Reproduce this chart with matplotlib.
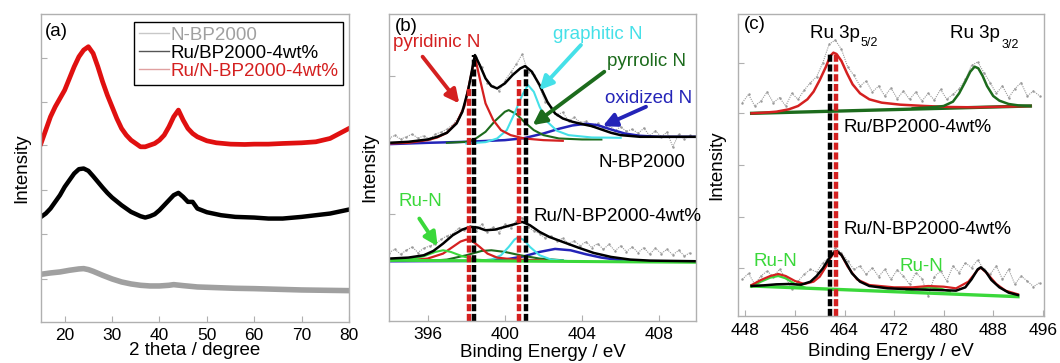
import matplotlib
matplotlib.use("Agg")
import matplotlib.pyplot as plt

plt.rcParams['font.family'] = ['Liberation Sans', 'DejaVu Sans']
plt.rcParams['font.size'] = 13.5

# ---------------- (a) XRD ----------------
red_x = [15, 16, 17, 18, 19, 20, 21, 22, 23, 24, 25, 26, 27, 28, 29, 30, 31, 32, 33, 34, 35, 36, 37, 38, 39, 40,
         41, 42, 43, 44, 45, 46, 47, 48, 50, 52, 55, 58, 60, 63, 66, 70, 73, 76, 78, 80]
red_y = [535, 575, 615, 645, 670, 695, 730, 765, 795, 815, 825, 805, 765, 720, 680, 645, 610, 580, 560, 545, 535, 525,
         525, 530, 535, 545, 560, 585, 615, 635, 605, 580, 565, 555, 543, 537, 533, 532, 533, 533, 535, 537, 540, 550,
         565, 580]
black_x = [15, 16, 17, 18, 19, 20, 21, 22, 23, 24, 25, 26, 27, 28, 29, 30, 32, 34, 36, 37, 38, 39, 40, 41, 42, 43, 44,
           45, 46, 47, 48, 50, 53, 56, 60, 63, 66, 70, 73, 76, 80]
black_y = [315, 325, 340, 360, 380, 405, 425, 445, 458, 460, 453, 437, 420, 403, 387, 373, 350, 330, 317, 313, 317,
           323, 335, 350, 365, 380, 387, 375, 360, 360, 340, 329, 320, 315, 313, 310, 310, 315, 320, 325, 337]
gray_x = [15, 17, 19, 21, 23, 24, 25, 26, 28, 30, 32, 34, 36, 38, 40, 42, 43, 45, 48, 52, 56, 60, 65, 70, 75, 80]
gray_y = [143, 147, 150, 155, 159, 160, 157, 152, 140, 129, 120, 114, 110, 108, 108, 110, 112, 109, 105, 103, 101,
          100, 98, 96, 95, 94]
xrd_labels = ['N-BP2000', 'Ru/BP2000-4wt%', 'Ru/N-BP2000-4wt%']

# ---------------- (b) N 1s ----------------
b_env1_x = [394, 395, 396, 396.5, 397, 397.5, 397.8, 398.1, 398.3, 398.45, 398.7, 399, 399.3, 399.6, 400, 400.4,
            400.8, 401.05, 401.4, 401.8, 402.2, 402.6, 403, 403.5, 404, 404.5, 405, 405.5, 406, 407, 408, 410]
b_env1_y = [534, 537, 544, 552, 564, 592, 627, 692, 752, 797, 767, 727, 704, 697, 712, 737, 757, 764, 747, 707, 657,
            622, 607, 597, 590, 584, 574, 564, 557, 552, 552, 552]
b_pyd1_x = [394, 395, 396, 396.5, 397, 397.5, 397.9, 398.2, 398.45, 398.7, 399, 399.4, 399.8, 400.3, 401, 402, 403]
b_pyd1_y = [532, 534, 542, 550, 564, 594, 642, 722, 792, 727, 652, 602, 572, 557, 547, 542, 540]
b_pyr1_x = [397, 398, 398.5, 399, 399.5, 400, 400.2, 400.6, 401, 401.5, 402, 402.8, 404, 405]
b_pyr1_y = [534, 537, 547, 567, 600, 627, 632, 620, 597, 572, 557, 547, 544, 544]
b_gra1_x = [398, 399, 399.6, 400.1, 400.5, 400.9, 401.2, 401.5, 401.8, 402.2, 402.7, 403.3, 404.5, 406]
b_gra1_y = [532, 536, 547, 572, 622, 677, 707, 687, 642, 597, 570, 557, 550, 549]
b_oxi1_x = [394, 396, 398, 400, 401, 402, 402.8, 403.5, 404.2, 404.8, 405.5, 406.2, 407, 408, 410]
b_oxi1_y = [530, 534, 537, 542, 548, 562, 576, 586, 591, 587, 574, 562, 555, 552, 552]
b_raw_x = [394.0, 394.3, 394.6, 394.9, 395.2, 395.5, 395.8, 396.1, 396.4, 396.7, 397.0, 397.3, 397.6, 397.9, 398.2,
           398.5, 398.8, 399.1, 399.4, 399.7, 400.0, 400.3, 400.6, 400.9, 401.2, 401.5, 401.8, 402.1, 402.4, 402.7,
           403.0, 403.3, 403.6, 403.9, 404.2, 404.5, 404.8, 405.1, 405.4, 405.7, 406.0, 406.3, 406.6, 406.9, 407.2,
           407.5, 407.8, 408.1, 408.4, 408.7, 409.0, 409.3, 409.6]
b_raw1_y = [548, 556, 545, 552, 560, 548, 555, 546, 560, 566, 575, 588, 610, 650, 720, 790, 760, 712, 705, 690, 720,
            745, 770, 800, 745, 738, 700, 655, 640, 618, 625, 600, 610, 595, 598, 585, 592, 578, 588, 570, 582, 568,
            575, 562, 578, 555, 570, 552, 566, 522, 560, 545, 556]
b_raw2_y = [205, 215, 200, 212, 222, 205, 218, 225, 230, 245, 255, 262, 278, 272, 285, 270, 290, 268, 282, 265, 290,
            278, 300, 310, 282, 270, 262, 248, 255, 240, 248, 232, 240, 225, 238, 220, 232, 215, 230, 210, 225, 208,
            222, 205, 220, 200, 218, 202, 215, 198, 212, 195, 205]
b_env2_x = [394, 395, 395.8, 396.3, 396.8, 397.3, 397.8, 398.2, 398.6, 399, 399.5, 400, 400.5, 400.9, 401.3, 401.8,
            402.3, 403, 403.8, 404.6, 405.5, 406.5, 407.5, 410]
b_env2_y = [187, 190, 197, 210, 232, 257, 274, 282, 280, 272, 274, 282, 290, 297, 287, 267, 252, 237, 220, 204, 192,
            184, 181, 179]
b_pyd2_x = [395, 396, 396.8, 397.3, 397.7, 398, 398.3, 398.7, 399.1, 399.6, 400.5, 402]
b_pyd2_y = [182, 187, 202, 222, 238, 244, 240, 222, 202, 190, 184, 182]
b_run2_x = [394, 395, 395.8, 396.4, 396.8, 397.2, 397.8, 398.5, 399.5]
b_run2_y = [180, 184, 194, 207, 212, 207, 194, 184, 180]
b_pyr2_x = [396, 397, 398, 398.8, 399.3, 400, 400.8, 401.8, 403]
b_pyr2_y = [180, 184, 197, 210, 212, 207, 197, 187, 182]
b_gra2_x = [398.5, 399.3, 399.8, 400.2, 400.5, 400.7, 401, 401.3, 401.8, 402.4, 403.2]
b_gra2_y = [180, 184, 197, 222, 244, 251, 242, 222, 197, 184, 180]
b_oxi2_x = [394, 398, 400, 401, 401.8, 402.6, 403.4, 404.2, 405, 406, 407, 410]
b_oxi2_y = [179, 180, 184, 194, 207, 216, 212, 200, 190, 182, 179, 178]
b_base2_x = [394, 410]
b_base2_y = [182, 176]
b_red_dash_x = [398.16, 400.75]
b_red_dash_top = [701, 722]
b_blk_dash_x = [398.42, 401.1]
b_blk_dash_top = [797, 757]

# ---------------- (c) Ru 3p ----------------
c_base1_x = [449, 494]
c_base1_y = [608, 630]
c_red1_x = [449, 451, 453, 455, 456.5, 458, 459, 460, 461, 461.7, 462.2, 462.7, 463.5, 464.4, 465.3, 466.5, 468, 470,
            473, 477, 481, 485, 490, 494]
c_red1_y = [608, 610, 613, 620, 630, 650, 673, 708, 748, 780, 790, 786, 765, 728, 695, 668, 650, 640, 634, 630, 627,
            626, 628, 630]
c_grn1_x = [475, 478, 480, 481.5, 482.5, 483.5, 484.3, 485, 485.6, 486.3, 487, 488, 489, 490.5, 492, 494]
c_grn1_y = [623, 626, 630, 643, 668, 703, 733, 748, 743, 720, 690, 660, 646, 636, 632, 630]
c_raw_x = [447.5, 448.5, 449.5, 450.5, 451.5, 452.5, 453.5, 454.5, 455.5, 456.5, 457.5, 458.5, 459.5, 460.5, 461.5,
           462.5, 463.5, 464.5, 465.5, 466.5, 467.5, 468.5, 469.5, 470.5, 471.5, 472.5, 473.5, 474.5, 475.5, 476.5,
           477.5, 478.5, 479.5, 480.5, 481.5, 482.5, 483.5, 484.5, 485.5, 486.5, 487.5, 488.5, 489.5, 490.5, 491.5,
           492.5, 493.5, 494.5, 495.5]
c_raw1_y = [640, 665, 630, 645, 672, 640, 655, 630, 668, 650, 678, 700, 718, 760, 815, 828, 800, 748, 722, 690, 705,
            672, 690, 660, 684, 652, 675, 650, 672, 645, 668, 648, 680, 650, 665, 682, 710, 752, 762, 730, 700, 668,
            690, 655, 682, 700, 660, 675, 660]
c_raw2_y = [110, 128, 95, 120, 135, 118, 140, 115, 80, 105, 125, 140, 132, 160, 175, 205, 190, 165, 140, 150, 125,
            145, 118, 140, 110, 138, 120, 95, 130, 112, 60, 118, 135, 105, 150, 130, 160, 145, 168, 140, 125, 150,
            110, 140, 95, 120, 105, 88, 100]
c_base2_x = [449, 492]
c_base2_y = [90, 58]
c_blk2_x = [449, 451, 453, 455, 457, 458.5, 459.5, 460.5, 461.5, 462.3, 462.8, 463.5, 464.3, 465.2, 466.5, 468, 471,
            475, 479, 482, 483.5, 484.5, 485.5, 486, 486.8, 487.7, 489, 490.5, 492]
c_blk2_y = [90, 92, 95, 96, 94, 103, 120, 143, 173, 191, 195, 183, 158, 128, 103, 90, 83, 80, 78, 76, 86, 110, 140,
            146, 133, 108, 86, 70, 63]
c_red2_x = [449, 450.5, 452, 453.3, 454.5, 456, 457.5, 459, 460, 461, 462, 462.8, 463.5, 464.5, 466, 468, 472, 475,
            477.5, 480, 482, 484, 485.5, 486, 487, 488.5, 490, 492]
c_red2_y = [93, 108, 120, 126, 120, 105, 96, 103, 118, 148, 183, 193, 183, 148, 110, 93, 86, 86, 90, 88, 83, 103,
            138, 145, 128, 96, 76, 65]
c_run2a_x = [449, 450.5, 452, 453.3, 454.5, 456, 457.5]
c_run2a_y = [88, 103, 115, 120, 113, 96, 86]
c_run2b_x = [474, 476, 477.7, 479.5, 481]
c_run2b_y = [76, 82, 86, 82, 74]
c_blk_dash_x = 461.6
c_red_dash_x = 462.7
c_dash_top = 790

RED = '#d42020'
CYAN = '#45e0e8'
DGREEN = '#1c6b1c'
BLUE = '#2424b8'
LGREEN = '#3ad83a'
GRAY = '#9a9a9a'
FRAME = '#b0b0b0'
DASH = (0, (1.6, 0.6))

fig = plt.figure(figsize=(10.6, 3.63), dpi=100)
ax_a = fig.add_axes([41 / 1060, 41 / 363, 308 / 1060, 308 / 363])
ax_b = fig.add_axes([389 / 1060, 42 / 363, 307 / 1060, 307 / 363])
ax_c = fig.add_axes([738 / 1060, 47 / 363, 306 / 1060, 302 / 363])


def style(ax, xlabel, label_y, pad=4):
    for s in ax.spines.values():
        s.set_color(FRAME)
        s.set_linewidth(1.0)
    ax.tick_params(direction='in', length=4, color=FRAME, labelsize=12.5, pad=pad,
                   top=False, right=False)
    ax.set_yticklabels([])
    ax.set_ylabel('Intensity', fontsize=13.5, labelpad=4)
    ax.set_xlabel(xlabel, fontsize=13.5, va='center')
    ax.xaxis.set_label_coords(0.5, label_y)


# (a)
ax_a.plot(gray_x, gray_y, color='#a0a0a0', lw=4.0, label=xrd_labels[0])
ax_a.plot(black_x, black_y, color='black', lw=3.2, label=xrd_labels[1])
ax_a.plot(red_x, red_y, color='#e01010', lw=3.4, label=xrd_labels[2])
ax_a.set_xlim(15, 80)
ax_a.set_ylim(0, 923)
ax_a.set_xticks([20, 30, 40, 50, 60, 70, 80])
ax_a.set_yticks([130, 265, 395, 530, 660, 790])
style(ax_a, '2 theta / degree', -0.094)
leg = ax_a.legend(loc='upper right', bbox_to_anchor=(0.981, 0.974), borderaxespad=0, fontsize=13.5,
                  handlelength=1.6, handletextpad=0.1, borderpad=0.25, labelspacing=0.05,
                  fancybox=False, framealpha=1,
                  labelcolor=['#a0a0a0', 'black', '#d42020'])
leg.get_frame().set_edgecolor('black')
leg.get_frame().set_linewidth(1.0)
for h, c in zip(leg.get_lines(), ['#c8c8c8', '#555555', '#e0a0a0']):
    h.set_linewidth(1.0)
    h.set_color(c)
ax_a.text(0.013, 0.943, '(a)', transform=ax_a.transAxes, fontsize=13.5, va='center')

# (b)
for ry in (b_raw1_y, b_raw2_y):
    ax_b.plot(b_raw_x, ry, color=GRAY, lw=0.8, ls=(0, (1, 1)), marker='.', ms=1.5)
ax_b.plot(b_oxi1_x, b_oxi1_y, color=BLUE, lw=1.8)
ax_b.plot(b_pyr1_x, b_pyr1_y, color=DGREEN, lw=1.5)
ax_b.plot(b_gra1_x, b_gra1_y, color=CYAN, lw=1.5)
ax_b.plot(b_pyd1_x, b_pyd1_y, color=RED, lw=1.6)
ax_b.plot(b_env1_x, b_env1_y, color='black', lw=1.8)
ax_b.plot(b_oxi2_x, b_oxi2_y, color=BLUE, lw=1.8)
ax_b.plot(b_pyr2_x, b_pyr2_y, color=DGREEN, lw=1.5)
ax_b.plot(b_gra2_x, b_gra2_y, color=CYAN, lw=1.5)
ax_b.plot(b_pyd2_x, b_pyd2_y, color=RED, lw=1.6)
ax_b.plot(b_run2_x, b_run2_y, color=LGREEN, lw=1.5)
ax_b.plot(b_base2_x, b_base2_y, color=LGREEN, lw=2.2)
ax_b.plot(b_env2_x, b_env2_y, color='black', lw=1.8)
for xv, top in zip(b_red_dash_x, b_red_dash_top):
    ax_b.plot([xv, xv], [0, top], color=RED, lw=3.2, ls=DASH)
for xv, top in zip(b_blk_dash_x, b_blk_dash_top):
    ax_b.plot([xv, xv], [0, top], color='black', lw=3.2, ls=DASH)
ax_b.set_xlim(394, 409.9)
ax_b.set_ylim(0, 920)
ax_b.set_xticks([396, 400, 404, 408])
ax_b.set_yticks([322, 734])
style(ax_b, 'Binding Energy / eV', -0.101)

arrows_b = [
    ('pyridinic N', RED, (0.014, 0.906), (395.74, 792), (397.64, 652)),
    ('graphitic N', CYAN, (0.535, 0.932), (403.94, 827), (401.79, 692)),
    ('pyrrolic N', DGREEN, (0.709, 0.845), (405.15, 747), (401.44, 587)),
    ('oxidized N', BLUE, (0.704, 0.725), (407.31, 642), (405.07, 584)),
    ('Ru-N', LGREEN, (0.030, 0.389), (395.57, 307), (396.52, 224)),
]
for txt, col, pos, tail, head in arrows_b:
    ax_b.text(pos[0], pos[1], txt, color=col, transform=ax_b.transAxes, fontsize=13.5, va='center')
    ax_b.annotate('', xy=head, xytext=tail,
                  arrowprops=dict(arrowstyle='-|>', color=col, lw=2.8, mutation_scale=20,
                                  shrinkA=0, shrinkB=0))
ax_b.text(0.02, 0.958, '(b)', transform=ax_b.transAxes, fontsize=13.5, va='center')
ax_b.text(0.682, 0.516, 'N-BP2000', transform=ax_b.transAxes, fontsize=13.5, va='center')
ax_b.text(0.470, 0.340, 'Ru/N-BP2000-4wt%', transform=ax_b.transAxes, fontsize=13.5, va='center')

# (c)
for ry in (c_raw1_y, c_raw2_y):
    ax_c.plot(c_raw_x, ry, color=GRAY, lw=0.8, ls=(0, (1, 1)), marker='.', ms=1.5)
ax_c.plot(c_base1_x, c_base1_y, color=DGREEN, lw=2.4)
ax_c.plot(c_red1_x, c_red1_y, color=RED, lw=1.8)
ax_c.plot(c_grn1_x, c_grn1_y, color=DGREEN, lw=1.8)
ax_c.plot(c_base2_x, c_base2_y, color=LGREEN, lw=2.4)
ax_c.plot(c_run2a_x, c_run2a_y, color=LGREEN, lw=1.6)
ax_c.plot(c_run2b_x, c_run2b_y, color=LGREEN, lw=1.6)
ax_c.plot(c_red2_x, c_red2_y, color=RED, lw=1.6)
ax_c.plot(c_blk2_x, c_blk2_y, color='black', lw=1.8)
ax_c.plot([c_blk_dash_x, c_blk_dash_x], [0, c_dash_top], color='black', lw=3.2, ls=DASH)
ax_c.plot([c_red_dash_x, c_red_dash_x], [0, c_dash_top], color=RED, lw=3.2, ls=DASH)
ax_c.set_xlim(446.8, 496.2)
ax_c.set_ylim(0, 906)
ax_c.set_xticks([448, 456, 464, 472, 480, 488, 496])
ax_c.set_yticks([143, 298, 453, 608, 760])
style(ax_c, 'Binding Energy / eV', -0.116, pad=5)
ax_c.text(0.018, 0.964, '(c)', transform=ax_c.transAxes, fontsize=13.5, va='center')
ax_c.text(0.235, 0.936, 'Ru 3p', transform=ax_c.transAxes, fontsize=13.5, va='center')
ax_c.text(0.402, 0.903, '5/2', transform=ax_c.transAxes, fontsize=9, va='center')
ax_c.text(0.693, 0.936, 'Ru 3p', transform=ax_c.transAxes, fontsize=13.5, va='center')
ax_c.text(0.862, 0.897, '3/2', transform=ax_c.transAxes, fontsize=9, va='center')
ax_c.text(0.344, 0.623, 'Ru/BP2000-4wt%', transform=ax_c.transAxes, fontsize=13.5, va='center')
ax_c.text(0.344, 0.287, 'Ru/N-BP2000-4wt%', transform=ax_c.transAxes, fontsize=13.5, va='center')
ax_c.text(0.050, 0.182, 'Ru-N', color=LGREEN, transform=ax_c.transAxes, fontsize=13.5, va='center')
ax_c.text(0.529, 0.163, 'Ru-N', color=LGREEN, transform=ax_c.transAxes, fontsize=13.5, va='center')

fig.savefig('out.png', dpi=100)
